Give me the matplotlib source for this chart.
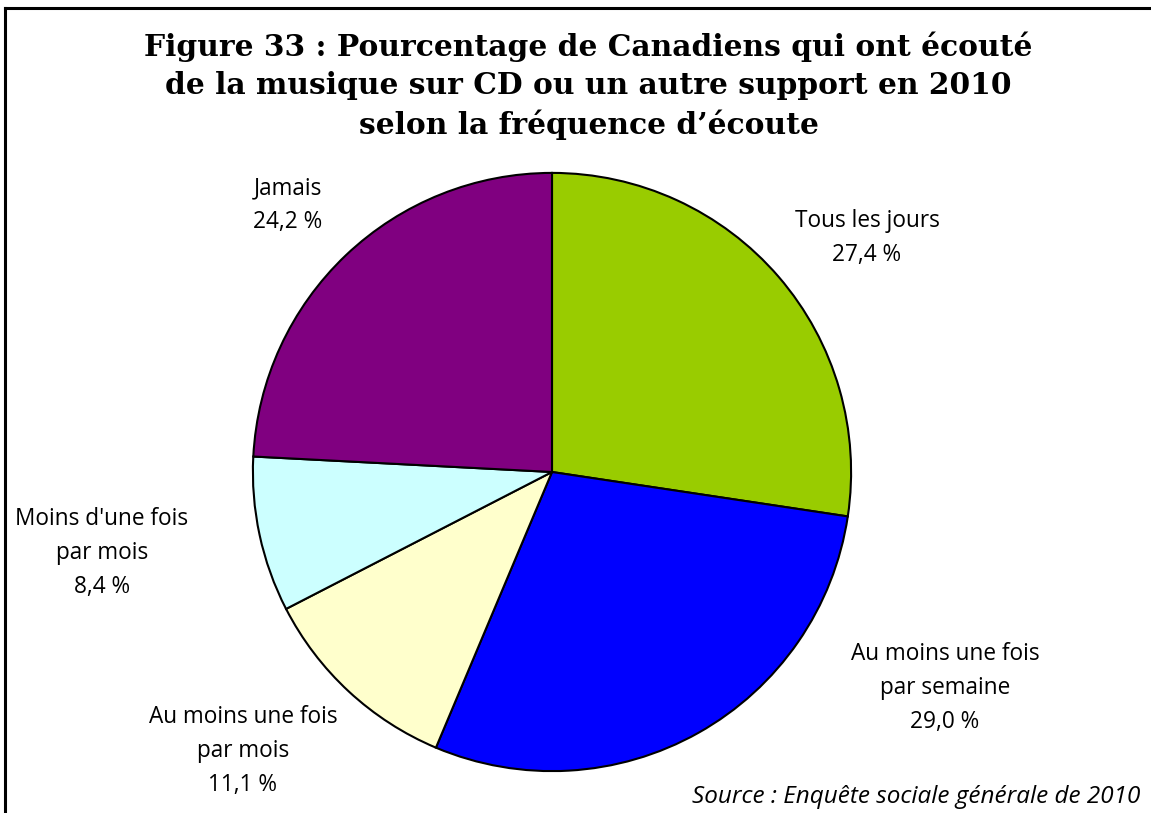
import matplotlib
matplotlib.use("Agg")
import matplotlib.pyplot as plt
from matplotlib.lines import Line2D

# data
categories = ["Tous les jours", "Au moins une fois\npar semaine", "Au moins une fois\npar mois",
              "Moins d'une fois\npar mois", "Jamais"]
values = [27.4, 29.0, 11.1, 8.4, 24.2]
colors = ["#99CC00", "#0000FF", "#FFFFCC", "#CCFFFF", "#800080"]
# label centres, in pie radius units
label_pos = [(1.05, 0.78), (1.31, -0.72), (-1.03, -0.93), (-1.50, -0.27), (-0.88, 0.89)]

W, H = 1151, 813
fig = plt.figure(figsize=(W / 100, H / 100), dpi=100)

# frame (top and left only, the rest is cropped)
fig.add_artist(Line2D([4.5 / W, 4.5 / W], [0, 1 - 8.5 / H], transform=fig.transFigure, color="black", lw=2.2))
fig.add_artist(Line2D([4.5 / W, 1], [1 - 8.5 / H, 1 - 8.5 / H], transform=fig.transFigure, color="black", lw=2.2))

cx, cy, r = 552, 472, 300
ax = fig.add_axes([(cx - r) / W, (H - cy - r) / H, 2 * r / W, 2 * r / H])
ax.pie(values, colors=colors, startangle=90, counterclock=False, radius=0.997,
       wedgeprops=dict(edgecolor="black", linewidth=1.5))
ax.set_xlim(-1, 1)
ax.set_ylim(-1, 1)
ax.set_aspect("equal")
ax.axis("off")

for name, v, (x, y) in zip(categories, values, label_pos):
    txt = f"{name}\n{v:.1f} %".replace(".", ",")
    ax.text(x, y, txt, ha="center", va="center", fontsize=16.3, family="Open Sans",
            linespacing=1.55, clip_on=False)

fig.text(0.5 * (147 + 1030) / W, 1 - 86 / H,
         "Figure 33 : Pourcentage de Canadiens qui ont écouté\n"
         "de la musique sur CD ou un autre support en 2010\n"
         "selon la fréquence d\u2019écoute",
         ha="center", va="center", fontsize=21.4, fontweight="bold", family="DejaVu Serif",
         linespacing=1.4)

fig.text(1140 / W, 1 - 797 / H, "Source : Enquête sociale générale de 2010",
         ha="right", va="center", fontsize=17.5, style="italic", family="Open Sans")

fig.savefig("out.png", dpi=100)
